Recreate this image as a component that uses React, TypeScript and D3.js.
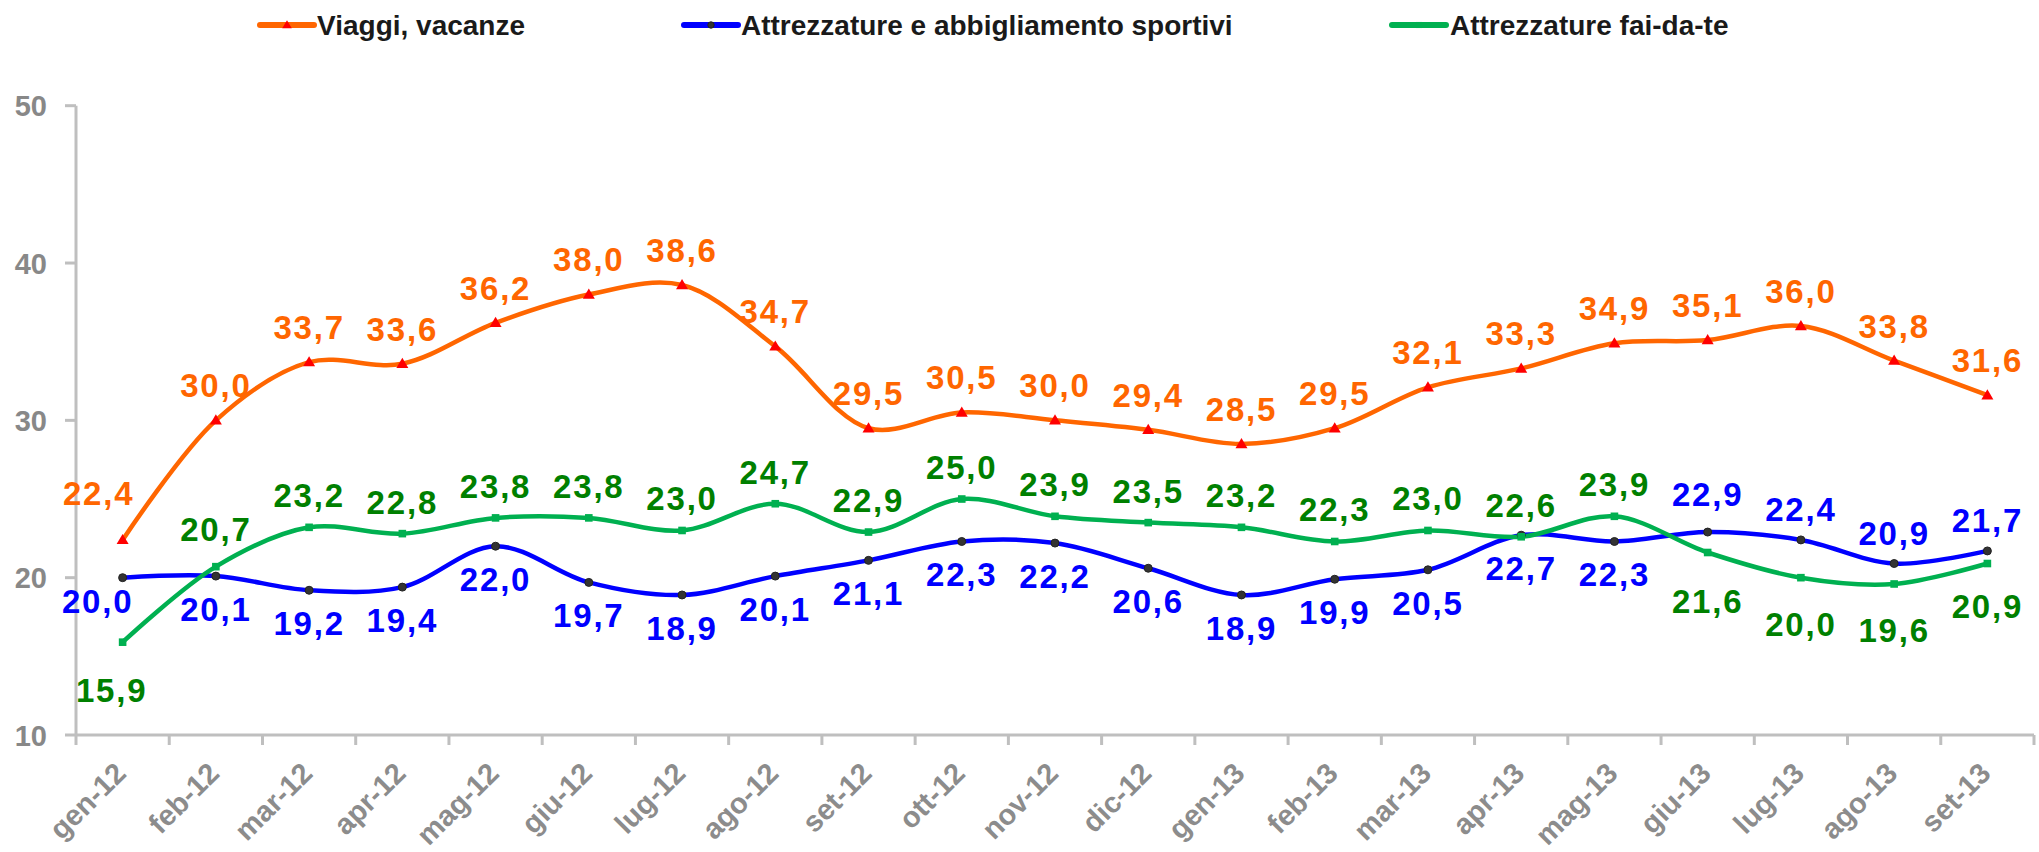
import React from "react";
import * as d3 from "d3";

const categories = ["gen-12","feb-12","mar-12","apr-12","mag-12","giu-12","lug-12","ago-12","set-12","ott-12","nov-12","dic-12","gen-13","feb-13","mar-13","apr-13","mag-13","giu-13","lug-13","ago-13","set-13"];
const viaggi = [22.4,30.0,33.7,33.6,36.2,38.0,38.6,34.7,29.5,30.5,30.0,29.4,28.5,29.5,32.1,33.3,34.9,35.1,36.0,33.8,31.6];
const sportivi = [20.0,20.1,19.2,19.4,22.0,19.7,18.9,20.1,21.1,22.3,22.2,20.6,18.9,19.9,20.5,22.7,22.3,22.9,22.4,20.9,21.7];
const faidate = [15.9,20.7,23.2,22.8,23.8,23.8,23.0,24.7,22.9,25.0,23.9,23.5,23.2,22.3,23.0,22.6,23.9,21.6,20.0,19.6,20.9];
const yTicks = [10,20,30,40,50];
const seriesNames = ["Viaggi, vacanze","Attrezzature e abbigliamento sportivi","Attrezzature fai-da-te"];

// label placement: "a" above, "b" below
const viaggiPos = categories.map(() => "a");
const sportiviPos = ["b","b","b","b","b","b","b","b","b","b","b","b","b","b","b","b","b","a","a","a","a"];
const faidatePos = ["b","a","a","a","a","a","a","a","a","a","a","a","a","a","a","a","a","b","b","b","b"];

const W = 2039, H = 852;
const x = d3.scaleBand<string>().domain(categories).range([76, 2034]).padding(0);
const y = d3.scaleLinear().domain([10, 50]).range([735, 105.7]);
const cx = (c: string) => (x(c) as number) + x.bandwidth() / 2;

const lineGen = d3.line<number>()
  .x((_, i) => cx(categories[i]))
  .y((d) => y(d))
  .curve(d3.curveCatmullRom.alpha(0.5));

const LABEL_FONT = "'Liberation Sans', Arial, sans-serif";

type Series = {
  name: string; values: number[]; pos: string[]; line: string; label: string;
  marker: "tri" | "circ" | "sq"; markerFill: string;
  above: number; below: number;
};

const series: Series[] = [
  { name: seriesNames[0], values: viaggi, pos: viaggiPos, line: "#FF6600", label: "#FF6600", marker: "tri", markerFill: "#FF0000", above: -23, below: 40 },
  { name: seriesNames[1], values: sportivi, pos: sportiviPos, line: "#0000FF", label: "#0000FF", marker: "circ", markerFill: "#333333", above: -19, below: 45 },
  { name: seriesNames[2], values: faidate, pos: faidatePos, line: "#00B050", label: "#008000", marker: "sq", markerFill: "#00B050", above: -20, below: 58 },
];

const nudge: Record<string, [number, number]> = {
  "0-0": [-24, -12],
  "1-0": [-25, -10],
  "2-0": [-11, 2],
  "2-1": [0, -6],
  "1-17": [0, -7],
  "2-17": [0, 2],
  "2-20": [0, -4],
};

function Marker({ kind, fill, px, py, s = 1 }: { kind: string; fill: string; px: number; py: number; s?: number }) {
  if (kind === "tri") {
    const r = 6 * s;
    return <path d={`M${px},${py - r} L${px + r},${py + r * 0.7} L${px - r},${py + r * 0.7} Z`} fill={fill} />;
  }
  if (kind === "circ") {
    return <circle cx={px} cy={py} r={4 * s} fill={fill} stroke="#222" strokeWidth={1} />;
  }
  const h = 3.8 * s;
  return <rect x={px - h} y={py - h} width={2 * h} height={2 * h} fill={fill} />;
}

const legendItems = [
  { lx: 260, tx: 317 },
  { lx: 684, tx: 741 },
  { lx: 1392, tx: 1450 },
];

export default function App() {
  return (
    <svg width={W} height={H} style={{ position: "absolute", left: 0, top: 0, background: "#fff" }}>
      {/* legend */}
      {series.map((s, i) => (
        <g key={"lg" + i}>
          <line x1={legendItems[i].lx} x2={legendItems[i].lx + 54} y1={25} y2={25} stroke={s.line} strokeWidth={6} strokeLinecap="round" />
          <Marker kind={s.marker} fill={s.markerFill} px={legendItems[i].lx + 27} py={25} s={0.8} />
          <text x={legendItems[i].tx} y={35} fontFamily={LABEL_FONT} fontWeight="bold" fontSize={28} fill="#1a1a1a">{s.name}</text>
        </g>
      ))}

      {/* axes */}
      <line x1={76} x2={76} y1={y(50)} y2={y(10)} stroke="#bfbfbf" strokeWidth={3} />
      <line x1={76} x2={2034} y1={y(10)} y2={y(10)} stroke="#bfbfbf" strokeWidth={3} />
      {yTicks.map((t) => (
        <g key={"yt" + t}>
          <line x1={65} x2={76} y1={y(t)} y2={y(t)} stroke="#bfbfbf" strokeWidth={3} />
          <text x={47} y={y(t) + 10.5} textAnchor="end" fontFamily={LABEL_FONT} fontWeight="bold" fontSize={29} fill="#888888">{t}</text>
        </g>
      ))}
      {d3.range(categories.length + 1).map((i) => {
        const tx = 76 + i * x.bandwidth();
        return <line key={"xt" + i} x1={tx} x2={tx} y1={y(10)} y2={y(10) + 10} stroke="#bfbfbf" strokeWidth={3} />;
      })}
      {categories.map((c) => (
        <text key={"xl" + c} transform={`translate(${cx(c) + 5},${775}) rotate(-45)`} textAnchor="end" fontFamily={LABEL_FONT} fontWeight="bold" fontSize={29} fill="#8c8c8c">{c}</text>
      ))}

      {/* lines */}
      {series.map((s, si) => (
        <path key={"ln" + si} d={lineGen(s.values) as string} fill="none" stroke={s.line} strokeWidth={4.5} />
      ))}
      {series.map((s, si) => (
        <g key={"mk" + si}>
          {s.values.map((v, i) => (
            <Marker key={i} kind={s.marker} fill={s.markerFill} px={cx(categories[i])} py={y(v)} />
          ))}
        </g>
      ))}
      {/* labels */}
      {series.map((s, si) => (
        <g key={"lb" + si}>
          {s.values.map((v, i) => {
            const n = nudge[`${si}-${i}`] || [0, 0];
            const dy = s.pos[i] === "a" ? s.above : s.below;
            return (
              <text key={i} x={cx(categories[i]) + n[0]} y={y(v) + dy + n[1]} textAnchor="middle" fontFamily={LABEL_FONT} fontWeight="bold" fontSize={33} letterSpacing={1.8} fill={s.label}>
                {v.toFixed(1).replace(".", ",")}
              </text>
            );
          })}
        </g>
      ))}
    </svg>
  );
}
